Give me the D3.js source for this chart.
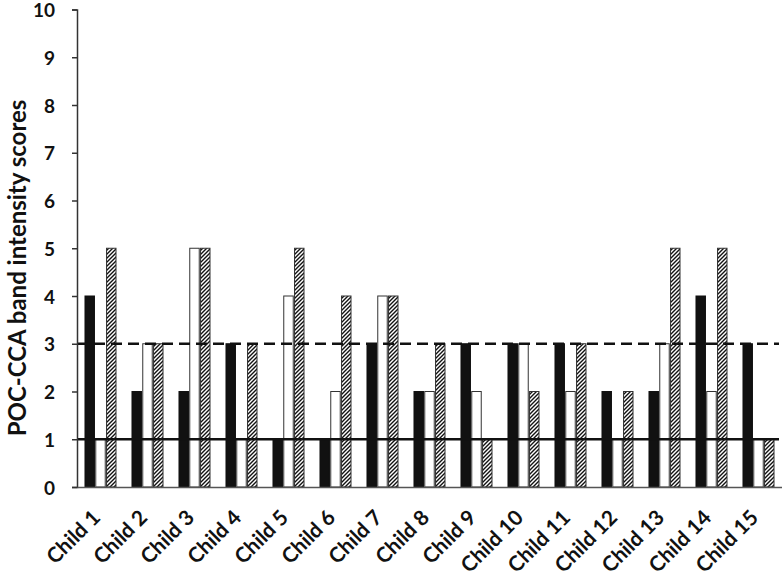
<!DOCTYPE html>
<html><head><meta charset="utf-8">
<script src="https://cdn.jsdelivr.net/npm/d3@7"></script>
<style>body{margin:0;background:#fff}svg{display:block}</style>
</head><body>
<script>
const categories = ["Child 1","Child 2","Child 3","Child 4","Child 5","Child 6","Child 7","Child 8","Child 9","Child 10","Child 11","Child 12","Child 13","Child 14","Child 15"];
const seriesNames = ["black","white","hatched"];
const blackValues   = [4,2,2,3,1,1,3,2,3,3,3,2,2,4,3];
const whiteValues   = [1,3,5,1,4,2,4,2,2,3,2,1,3,2,1];
const hatchedValues = [5,3,5,3,5,4,4,3,1,2,3,2,5,5,1];
const yTicks = [0,1,2,3,4,5,6,7,8,9,10];
const refSolid = 1, refDashed = 3;
const yTitle = "POC-CCA band intensity scores";

const W = 782, H = 577;
const FONT = "Lato, 'Open Sans', sans-serif";
const svg = d3.select("body").append("svg").attr("width", W).attr("height", H);
const defs = svg.append("defs");
const pat = defs.append("pattern").attr("id","hatch").attr("patternUnits","userSpaceOnUse")
  .attr("width",4).attr("height",4);
pat.append("rect").attr("width",4).attr("height",4).attr("fill","#fff");
pat.append("path").attr("d","M-1,1 l2,-2 M0,4 l4,-4 M3,5 l2,-2").attr("stroke","#111").attr("stroke-width",1.4);

const mLeft = 77, mRight = 782, mTop = 9.5, mBottom = 487;
const x0 = d3.scaleBand().domain(categories).range([mLeft, mRight]).paddingInner(0.34).paddingOuter(0.17);
const x1 = d3.scaleBand().domain(seriesNames).range([0, x0.bandwidth()]).paddingInner(0.12);
const y = d3.scaleLinear().domain([0,10]).range([mBottom, mTop]);

const data = categories.map((c,i)=>({cat:c, vals:[
  {s:"black", v:blackValues[i]},
  {s:"white", v:whiteValues[i]},
  {s:"hatched", v:hatchedValues[i]}]}));

const fills = {black:"#111", white:"#fff", hatched:"url(#hatch)"};
const g = svg.append("g");
g.selectAll("g.grp").data(data).join("g").attr("class","grp")
  .attr("transform", d=>`translate(${x0(d.cat)},0)`)
  .selectAll("rect").data(d=>d.vals).join("rect")
  .attr("x", d=>x1(d.s)).attr("width", x1.bandwidth())
  .attr("y", d=>y(d.v)).attr("height", d=>y(0)-y(d.v))
  .attr("fill", d=>fills[d.s])
  .attr("stroke", d=>d.s==="black" ? "#111" : "#333").attr("stroke-width", 1);

// reference lines
svg.append("line").attr("x1", mLeft).attr("x2", 779).attr("y1", y(refSolid)).attr("y2", y(refSolid))
  .attr("stroke","#111").attr("stroke-width",2.5);
svg.append("line").attr("x1", mLeft).attr("x2", 779).attr("y1", y(refDashed)).attr("y2", y(refDashed))
  .attr("stroke","#111").attr("stroke-width",2.5).attr("stroke-dasharray","11,6");

// y axis
const yAxis = svg.append("g").attr("transform",`translate(${mLeft},0)`)
  .call(d3.axisLeft(y).tickValues(yTicks).tickFormat(d3.format("d")).tickSize(5).tickPadding(17));
yAxis.select(".domain").attr("stroke","#333").attr("stroke-width",1.5);
yAxis.selectAll(".tick line").attr("stroke","#333").attr("stroke-width",1.5);
yAxis.selectAll("text").attr("font-family",FONT).attr("font-weight","bold")
  .attr("font-size",19).attr("fill","#111").attr("dy","0.38em");

// x axis baseline
const xAxis = svg.append("g").attr("transform",`translate(0,${mBottom})`)
  .call(d3.axisBottom(x0).tickSize(0).tickPadding(0));
xAxis.select(".domain").attr("stroke","#555").attr("stroke-width",1.5);
xAxis.selectAll("text")
  .attr("font-family",FONT).attr("font-weight","bold").attr("font-size",21)
  .attr("fill","#111").attr("text-anchor","end").attr("dy",null).attr("y",0)
  .attr("transform","translate(1,32) rotate(-45)");

// y title
svg.append("text").attr("transform",`translate(26,268) rotate(-90)`)
  .attr("text-anchor","middle").attr("font-family",FONT).attr("font-weight","bold")
  .attr("font-size",24).attr("fill","#111").text(yTitle);
</script>
</body></html>
